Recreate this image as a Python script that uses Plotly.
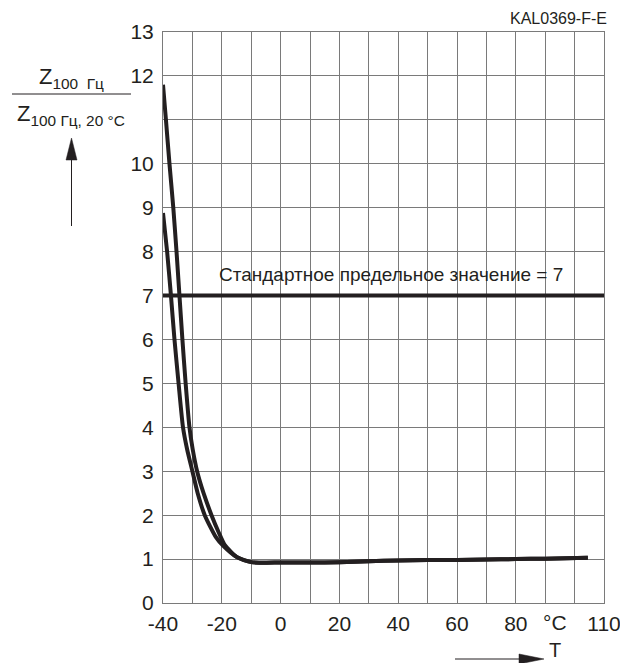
import plotly.graph_objects as go

# ---- data ----
curve_a_x = [-40, -39.0, -37.8, -36.5, -35.4, -34.4, -33.4, -32.3, -31.0, -29.9, -28.4, -26.2, -23.5, -21.0, -19.0, -15.0, -10.0,
             0, 10, 20, 30, 40, 50, 60, 70, 80, 90, 104.5]
curve_a_y = [11.8, 11.0, 10.0, 9.0, 8.0, 7.0, 6.0, 5.0, 4.0, 3.5, 3.0, 2.5, 2.0, 1.6, 1.32, 1.05, 0.93,
             0.92, 0.92, 0.93, 0.95, 0.97, 0.98, 0.98, 0.99, 1.0, 1.01, 1.03]
curve_b_x = [-40, -38.6, -37.3, -36.1, -34.7, -33.2, -31.8, -30.0, -28.2, -25.8, -22.0, -19.5, -15.0, -10.0,
             0, 10, 20, 30, 40, 50, 60, 70, 80, 90, 104.5]
curve_b_y = [8.88, 8.0, 7.0, 6.0, 5.0, 4.0, 3.5, 3.0, 2.5, 2.0, 1.5, 1.3, 1.05, 0.93,
             0.92, 0.92, 0.93, 0.95, 0.97, 0.98, 0.98, 0.99, 1.0, 1.01, 1.03]
limit_x = [-40, 110]
limit_value = 7
limit_label = "Стандартное предельное значение = 7"

x_tickvals = list(range(-40, 111, 10))
x_ticktext = ["-40", "", "-20", "", "0", "", "20", "", "40", "", "60", "", "80", "", "", "110"]
y_tickvals = list(range(0, 14))
y_ticktext = ["0", "1", "2", "3", "4", "5", "6", "7", "8", "9", "10", "", "12", "13"]

FONT = "Liberation Sans, Arial, sans-serif"
INK = "#231f20"
GRID = "#7a7a7a"

# The page body adds an 8px offset; the figure is sized to fill the rest of the window.
OFF = 8
W, H = 628 - OFF, 663 - OFF
# plot-area frame in window pixels
L, R, T, B = 163, 604, 32, 603
def px(x):
    return (x - L) / (R - L)
def py(y):
    return (B - y) / (B - T)

fig = go.Figure()
fig.add_trace(go.Scatter(x=limit_x, y=[limit_value, limit_value], mode="lines",
                         line=dict(color=INK, width=4), hoverinfo="skip"))
fig.add_trace(go.Scatter(x=curve_a_x, y=curve_a_y, mode="lines",
                         line=dict(color=INK, width=4, shape="spline", smoothing=0.6)))
fig.add_trace(go.Scatter(x=curve_b_x, y=curve_b_y, mode="lines",
                         line=dict(color=INK, width=4, shape="spline", smoothing=0.6)))

annotations = [
    dict(text=limit_label, x=px(391), y=py(274), xref="paper", yref="paper", showarrow=False,
         font=dict(size=19, color=INK, family=FONT),
         xanchor="center", yanchor="middle"),
    dict(text="KAL0369-F-E", x=px(609), y=py(19), xref="paper", yref="paper", showarrow=False,
         font=dict(size=16, color=INK, family=FONT), xanchor="right", yanchor="middle"),
    dict(text="°C", x=93.5, y=py(622), xref="x", yref="paper", showarrow=False,
         font=dict(size=21, color=INK, family=FONT), xanchor="center", yanchor="middle"),
    dict(text="Z<sub>100  Гц</sub>", x=px(71), y=py(78), xref="paper", yref="paper", showarrow=False,
         font=dict(size=22, color=INK, family=FONT), xanchor="center", yanchor="middle"),
    dict(text="Z<sub>100 Гц, 20 °C</sub>", x=px(71), y=py(115), xref="paper", yref="paper", showarrow=False,
         font=dict(size=22, color=INK, family=FONT), xanchor="center", yanchor="middle"),
    dict(text="T", x=px(555), y=py(650), xref="paper", yref="paper", showarrow=False,
         font=dict(size=20, color=INK, family=FONT), xanchor="center", yanchor="middle"),
]

def tri(p1, p2, p3):
    return "M {} {} L {} {} L {} {} Z".format(px(p1[0]), py(p1[1]), px(p2[0]), py(p2[1]),
                                             px(p3[0]), py(p3[1]))

shapes = [
    # fraction bar
    dict(type="line", xref="paper", yref="paper", x0=px(12), x1=px(131), y0=py(94), y1=py(94),
         line=dict(color=INK, width=1)),
    # vertical arrow
    dict(type="line", xref="paper", yref="paper", x0=px(71.5), x1=px(71.5), y0=py(226), y1=py(155),
         line=dict(color=INK, width=1)),
    dict(type="path", xref="paper", yref="paper", path=tri((71.5, 138), (66, 160), (77, 160)),
         fillcolor=INK, line=dict(color=INK, width=0.5)),
    # horizontal arrow
    dict(type="line", xref="paper", yref="paper", x0=px(455), x1=px(525), y0=py(659), y1=py(659),
         line=dict(color=INK, width=1)),
    dict(type="path", xref="paper", yref="paper", path=tri((544, 659), (519, 654), (519, 664)),
         fillcolor=INK, line=dict(color=INK, width=0.5)),
]

fig.update_layout(
    width=W, height=H,
    margin=dict(l=L - OFF, r=W - (R - OFF), t=T - OFF, b=H - (B - OFF), autoexpand=False),
    paper_bgcolor="white", plot_bgcolor="white",
    showlegend=False,
    annotations=annotations, shapes=shapes,
    font=dict(family=FONT, color=INK, size=21),
)
fig.update_xaxes(range=[-40, 110], tickvals=x_tickvals, ticktext=x_ticktext, automargin=False,
                 showgrid=True, gridcolor=GRID, gridwidth=1, zeroline=False,
                 showline=True, linecolor=GRID, linewidth=1, mirror=True,
                 ticks="", ticklabelstandoff=2, tickfont=dict(size=21, color=INK, family=FONT))
fig.update_yaxes(range=[0, 13], tickvals=y_tickvals, ticktext=y_ticktext, automargin=False,
                 showgrid=True, gridcolor=GRID, gridwidth=1, zeroline=False,
                 showline=True, linecolor=GRID, linewidth=1, mirror=True,
                 ticks="", ticklabelstandoff=4, tickfont=dict(size=21, color=INK, family=FONT))

fig.write_html("out.html")
